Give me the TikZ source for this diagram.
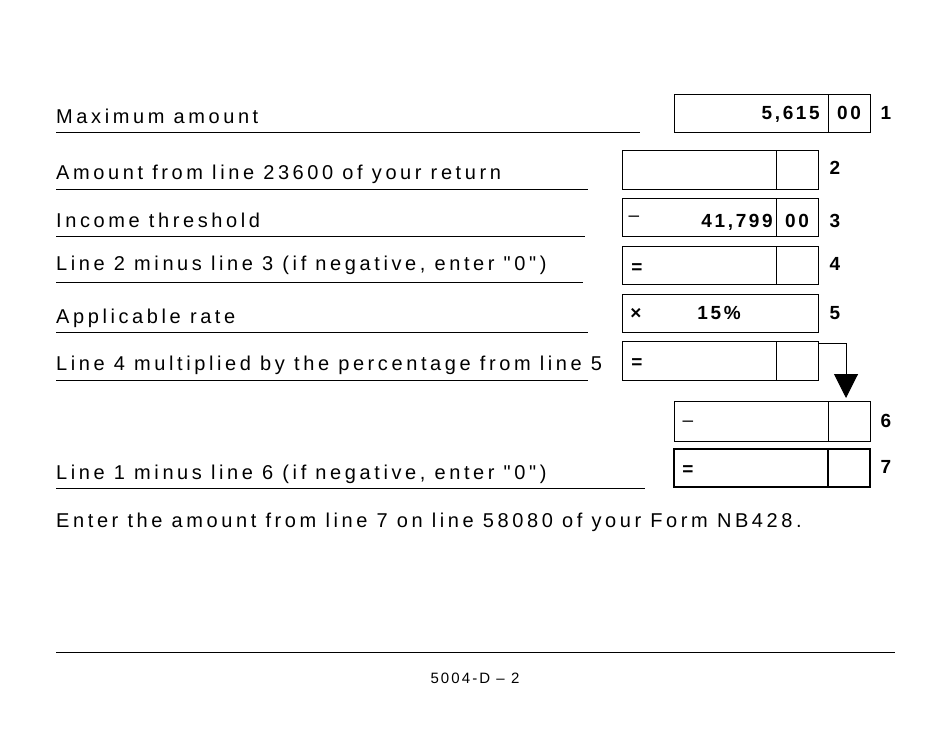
\documentclass[tikz,border=0pt]{standalone}
\usepackage{fontspec}
\setmainfont{Liberation Sans}
\newfontfamily\spaced[LetterSpace=14]{Liberation Sans}
\newfontfamily\wspaced[LetterSpace=18]{Liberation Sans}
\usetikzlibrary{arrows.meta}
\begin{document}
\begin{tikzpicture}[x=1pt,y=-1pt,
  lbl/.style={anchor=base west,inner sep=0,font=\wspaced\fontsize{20}{22}\selectfont},
  num/.style={anchor=base,inner sep=0,font=\bfseries\fontsize{19}{22}\selectfont},
  val/.style={anchor=base east,inner sep=0,font=\bfseries\spaced\fontsize{19}{22}\selectfont},
  bx/.style={draw,line width=1pt},
  ul/.style={line width=1pt}]
\useasboundingbox (0,0) rectangle (950,735);
% line 1
\node[lbl] (t1) at (56,124) {Maximum amount};
\draw[ul] (56,133) -- (640,133);
\draw[bx] (674,95) rectangle (870,133); \draw[bx] (828,95) -- (828,133);
\node[val] (v1) at (820,120) {5,615};
\node[num] (c1) at (849,120) {\spaced 00};
\node[num] (n1) at (886,120) {1};
% line 2
\node[lbl] (t2) at (56,180) {Amount from line 23600 of your return};
\draw[ul] (56,190) -- (588,190);
\draw[bx] (622,151) rectangle (818,190); \draw[bx] (776,151) -- (776,190);
\node[num] (n2) at (835,175) {2};
% line 3
\node[lbl] (t3) at (56,228) {Income threshold};
\draw[ul] (56,237) -- (585,237);
\draw[bx] (622,199) rectangle (818,237); \draw[bx] (776,199) -- (776,237);
\node[anchor=base,inner sep=0,font=\fontsize{19}{22}\selectfont] (m3) at (634,222) {–};
\node[val] (v3) at (773,228) {41,799};
\node[num] (c3) at (797,228) {\spaced 00};
\node[num] (n3) at (835,228) {3};
% line 4
\node[lbl] (t4) at (56,271) {Line 2 minus line 3 (if negative, enter "0")};
\draw[ul] (56,283) -- (583,283);
\draw[bx] (622,247) rectangle (818,285); \draw[bx] (776,247) -- (776,285);
\node[num] (e4) at (637,273) {=};
\node[num] (n4) at (835,271) {4};
% line 5
\node[lbl] (t5) at (56,323) {Applicable rate};
\draw[ul] (56,332) -- (588,332);
\draw[bx] (622,294) rectangle (818,332);
\node[num] (x5) at (636,319) {×};
\node[num] (p5) at (719,319) {\spaced 15\%};
\node[num] (n5) at (835,319) {5};
% line 6 calc
\node[lbl] (t6) at (56,370) {Line 4 multiplied by the percentage from line 5};
\draw[ul] (56,380) -- (588,380);
\draw[bx] (622,341) rectangle (818,380); \draw[bx] (776,341) -- (776,380);
\node[num] (e6) at (637,368) {=};
\coordinate (a0) at (818,343);
\coordinate (a1) at (846,343);
\coordinate (a2) at (846,398);
\draw[line width=1pt,-{Triangle[length=24pt,width=24pt]}] (a0) -- (a1) -- (a2);
% box 6
\draw[bx] (674,401) rectangle (870,441); \draw[bx] (828,401) -- (828,441);
\node[anchor=base,inner sep=0,font=\fontsize{19}{22}\selectfont] (m6) at (688,426) {–};
\node[num] (n6) at (886,427) {6};
% line 7
\node[lbl] (t7) at (56,479) {Line 1 minus line 6 (if negative, enter "0")};
\draw[ul] (56,488) -- (645,488);
\draw[draw,line width=2pt] (674,449) rectangle (870,487); \draw[line width=2pt] (828,449) -- (828,487);
\node[num] (e7) at (688,475) {=};
\node[num] (n7) at (886,473) {7};
% footer
\node[lbl] (t8) at (56,527) {Enter the amount from line 7 on line 58080 of your Form NB428.};
\draw[ul] (56,652) -- (895,652);
\node[anchor=base,inner sep=0,font=\spaced\fontsize{15}{18}\selectfont] (pg) at (475,683) {5004-D – 2};
\end{tikzpicture}
\end{document}
